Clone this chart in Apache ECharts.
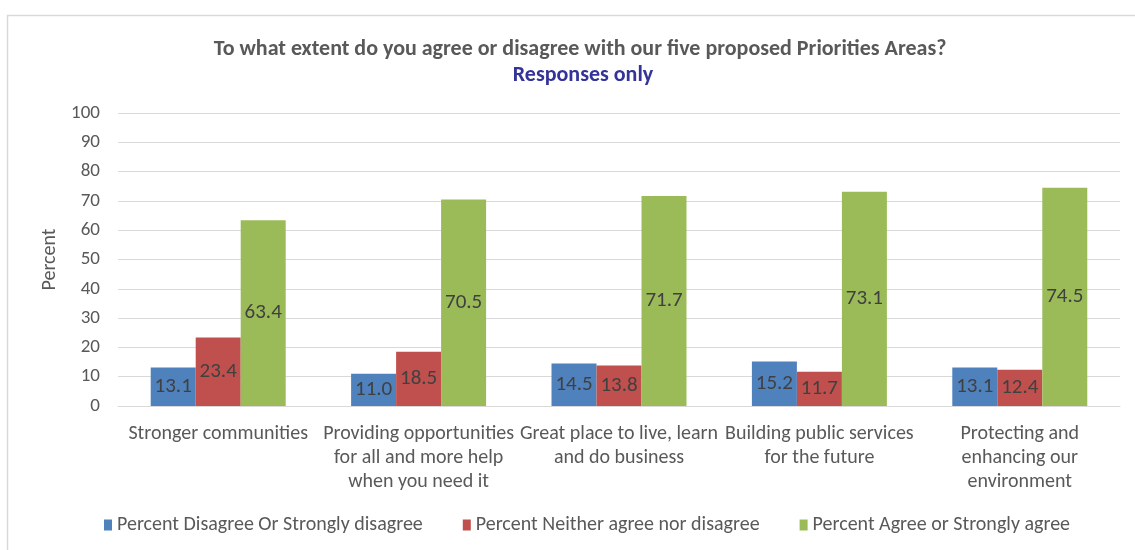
<!DOCTYPE html>
<html><head><meta charset="utf-8">
<script src="https://cdn.jsdelivr.net/npm/echarts@6/dist/echarts.min.js"></script>
<style>html,body{margin:0;padding:0;background:#fff}#c{width:1135px;height:550px}</style>
</head><body><div id="c"></div>
<script>
const categories = [
  "Stronger communities",
  "Providing opportunities\nfor all and more help\nwhen you need it",
  "Great place to live, learn\nand do business",
  "Building public services\nfor the future",
  "Protecting and\nenhancing our\nenvironment"
];
const seriesNames = [
  "Percent Disagree Or Strongly disagree",
  "Percent Neither agree nor disagree",
  "Percent Agree or Strongly agree"
];
const disagree = [13.1, 11.0, 14.5, 15.2, 13.1];
const neither = [23.4, 18.5, 13.8, 11.7, 12.4];
const agree = [63.4, 70.5, 71.7, 73.1, 74.5];
const colors = ["#4F81BD", "#C0504D", "#9BBB59"];
const font = "Carlito, 'Open Sans', 'Noto Sans', sans-serif";

const chart = echarts.init(document.getElementById('c'));
const mk = (name, data, color) => ({
  name, type: 'bar', data, barWidth: 45, barGap: '0%',
  itemStyle: { color },
  label: { show: true, position: 'inside', color: '#404040', fontSize: 21, fontFamily: font,
    formatter: p => p.value.toFixed(1) }
});
chart.setOption({
  animation: false,
  textStyle: { fontFamily: font },
  graphic: [{ type: 'rect', shape: { x: 7.5, y: 15.5, width: 1140, height: 600 },
    style: { fill: 'none', stroke: '#d9d9d9', lineWidth: 1.5 }, silent: true }],
  title: [
    { text: 'To what extent do you agree or disagree with our five proposed Priorities Areas?', left: 575, textAlign: 'center', top: 33,
      textStyle: { fontSize: 22, fontWeight: 'bold', color: '#595959', fontFamily: font } },
    { text: 'Responses only', left: 578, textAlign: 'center', top: 59,
      textStyle: { fontSize: 22, fontWeight: 'bold', color: '#333399', fontFamily: font } }
  ],
  legend: { bottom: 10, left: 99, itemWidth: 8, itemHeight: 11, itemGap: 40, icon: 'rect',
    textStyle: { fontSize: 20, color: '#595959', fontFamily: font } },
  grid: { left: 118, right: 15, top: 113, bottom: 144 },
  xAxis: { type: 'category', data: categories,
    axisLine: { lineStyle: { color: '#d9d9d9' } }, axisTick: { show: false },
    axisLabel: { interval: 0, fontSize: 20, color: '#595959', lineHeight: 24, margin: 16, fontFamily: font } },
  yAxis: { type: 'value', min: 0, max: 100, interval: 10, name: 'Percent', nameLocation: 'middle', nameGap: 57,
    nameTextStyle: { fontSize: 20, color: '#595959', fontFamily: font },
    splitLine: { lineStyle: { color: '#d9d9d9' } }, axisLine: { show: false }, axisTick: { show: false },
    axisLabel: { fontSize: 19, color: '#595959', margin: 18, fontFamily: font } },
  series: [mk(seriesNames[0], disagree, colors[0]), mk(seriesNames[1], neither, colors[1]), mk(seriesNames[2], agree, colors[2])]
});
</script></body></html>
